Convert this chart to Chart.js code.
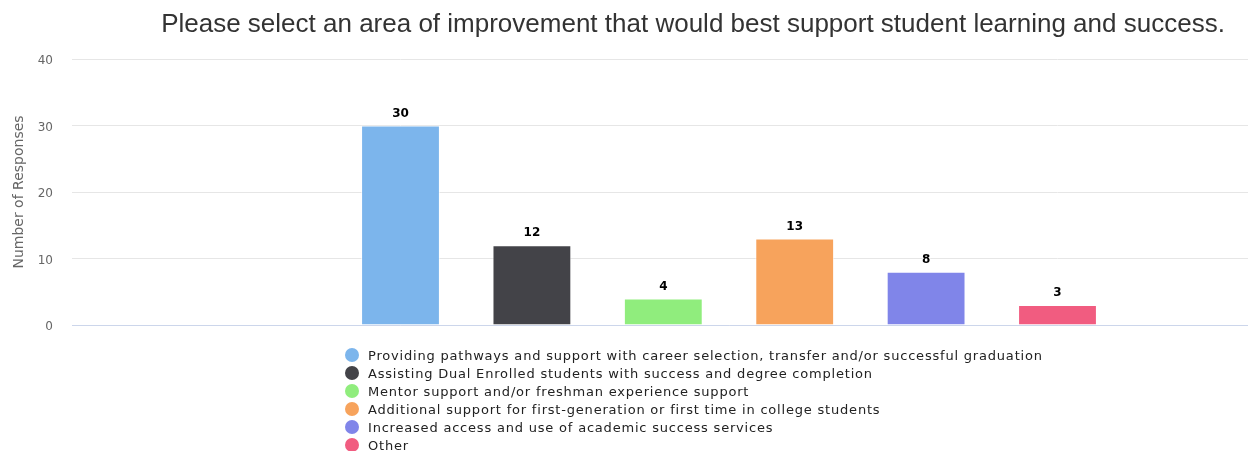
<!DOCTYPE html>
<html lang="en">
    <head>
        <meta charset="UTF-8" />
        <title>Student learning survey</title>
        <script src="https://cdn.jsdelivr.net/npm/chart.js@4/dist/chart.umd.min.js"></script>
        <style>
            html, body { margin: 0; padding: 0; background: #fff; overflow: hidden; }
            #wrap { position: relative; width: 1388px; height: 451px; }
            #legend { position: absolute; left: 345px; top: 347px; font: 13px "DejaVu Sans", sans-serif; letter-spacing: 0.8px; color: #222; }
            #legend div { height: 18px; line-height: 18px; white-space: nowrap; }
            #legend span { display: inline-block; width: 14px; height: 14px; border-radius: 50%; vertical-align: -2px; margin-right: 9px; }
        </style>
    </head>
    <body>
        <div id="wrap">
            <canvas id="canvas" width="1388" height="451"></canvas>
            <div id="legend"></div>
        </div>
        <script>
            var title = "Please select an area of improvement that would best support student learning and success.";
            var categories = [
                "Providing pathways and support with career selection, transfer and/or successful graduation",
                "Assisting Dual Enrolled students with success and degree completion",
                "Mentor support and/or freshman experience support",
                "Additional support for first-generation or first time in college students",
                "Increased access and use of academic success services",
                "Other"
            ];
            var values = [30, 12, 4, 13, 8, 3];
            var yTicks = [0, 10, 20, 30, 40];

            var colors = ["#7cb5ec", "#434348", "#90ed7d", "#f7a35c", "#8085e9", "#f15c80"];

            // one dataset per answer so each bar gets its own legend entry
            var datasets = categories.map(function (name, i) {
                return {
                    label: name,
                    data: [values[i]],
                    backgroundColor: colors[i],
                    borderColor: "rgba(255,255,255,0.6)",
                    borderWidth: 1,
                    categoryPercentage: 0.6,
                    barPercentage: 0.6
                };
            });

            var legend = document.getElementById("legend");
            categories.forEach(function (name, i) {
                var row = document.createElement("div");
                row.innerHTML = '<span style="background:' + colors[i] + '"></span>' + name;
                legend.appendChild(row);
            });

            var valueLabels = {
                id: "valueLabels",
                afterDatasetsDraw: function (chart) {
                    var ctx = chart.ctx;
                    ctx.save();
                    ctx.font = "bold 12px 'DejaVu Sans', sans-serif";
                    ctx.textAlign = "center";
                    ctx.textBaseline = "bottom";
                    ctx.lineWidth = 2;
                    ctx.strokeStyle = "#fff";
                    ctx.fillStyle = "#000";
                    chart.data.datasets.forEach(function (ds, i) {
                        chart.getDatasetMeta(i).data.forEach(function (bar, j) {
                            var txt = String(ds.data[j]);
                            ctx.strokeText(txt, bar.x, bar.y - 6);
                            ctx.fillText(txt, bar.x, bar.y - 6);
                        });
                    });
                    ctx.restore();
                }
            };

            var ctx = document.getElementById("canvas").getContext("2d");
            var chart = new Chart(ctx, {
                type: "bar",
                data: { labels: [""], datasets: datasets },
                plugins: [valueLabels],
                options: {
                    responsive: false,
                    animation: false,
                    layout: { padding: { left: 0, right: 2, top: 0, bottom: 0 } },
                    plugins: {
                        legend: { display: false },
                        tooltip: { enabled: false },
                        title: {
                            display: true,
                            text: title,
                            color: "#333",
                            font: { family: "'Liberation Sans', Arial, sans-serif", size: 26, weight: "normal", lineHeight: 1.2 },
                            padding: { top: 9, bottom: 18.8 }
                        }
                    },
                    scales: {
                        x: {
                            ticks: { display: false },
                            grid: { display: false },
                            border: { color: "#ccd6eb", width: 1 },
                            afterFit: function (scale) { scale.height = 126; }
                        },
                        y: {
                            min: 0,
                            max: 40,
                            afterBuildTicks: function (scale) {
                                scale.ticks = yTicks.map(function (v) { return { value: v }; });
                            },
                            ticks: { color: "#666", padding: 19, labelOffset: 2, font: { family: "'DejaVu Sans', sans-serif", size: 12 } },
                            grid: { color: "#e6e6e6", drawTicks: false },
                            border: { display: false },
                            title: {
                                display: true,
                                text: "Number of Responses",
                                color: "#666",
                                padding: { top: 11, bottom: 0 },
                                font: { family: "'DejaVu Sans', sans-serif", size: 14 }
                            },
                            afterFit: function (scale) { scale.width = 72; }
                        }
                    }
                }
            });
        </script>
    </body>
</html>
